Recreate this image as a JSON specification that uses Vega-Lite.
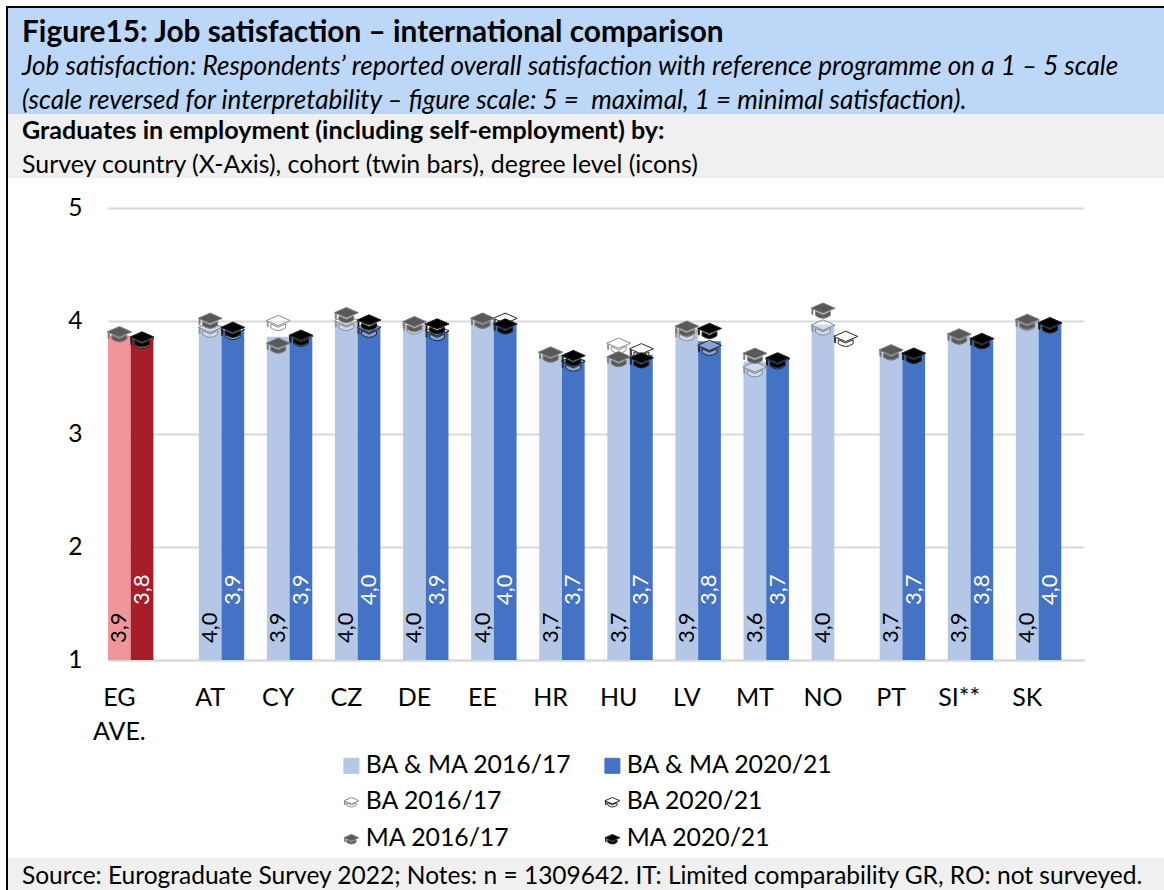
{
"$schema":"https://vega.github.io/schema/vega-lite/v6.json",
"padding":{"left":6,"top":6,"right":0,"bottom":0},
"background":"white",
"bounds":"flush",
"spacing":0,
"config":{"view":{"stroke":null},"font":"Lato","text":{"font":"Lato"},"concat":{"spacing":0}},
"datasets":{
"bars":[
{"slot":"EG AVE. 2016/17","series":"EG AVE. 2016/17","value":3.87,"label":"3,9","cohort":"2016/17"},
{"slot":"EG AVE. 2020/21","series":"EG AVE. 2020/21","value":3.84,"label":"3,8","cohort":"2020/21"},
{"slot":"AT 2016/17","series":"BA & MA 2016/17","value":3.96,"label":"4,0","cohort":"2016/17"},
{"slot":"AT 2020/21","series":"BA & MA 2020/21","value":3.92,"label":"3,9","cohort":"2020/21"},
{"slot":"CY 2016/17","series":"BA & MA 2016/17","value":3.86,"label":"3,9","cohort":"2016/17"},
{"slot":"CY 2020/21","series":"BA & MA 2020/21","value":3.85,"label":"3,9","cohort":"2020/21"},
{"slot":"CZ 2016/17","series":"BA & MA 2016/17","value":3.99,"label":"4,0","cohort":"2016/17"},
{"slot":"CZ 2020/21","series":"BA & MA 2020/21","value":3.95,"label":"4,0","cohort":"2020/21"},
{"slot":"DE 2016/17","series":"BA & MA 2016/17","value":3.96,"label":"4,0","cohort":"2016/17"},
{"slot":"DE 2020/21","series":"BA & MA 2020/21","value":3.91,"label":"3,9","cohort":"2020/21"},
{"slot":"EE 2016/17","series":"BA & MA 2016/17","value":4.0,"label":"4,0","cohort":"2016/17"},
{"slot":"EE 2020/21","series":"BA & MA 2020/21","value":3.97,"label":"4,0","cohort":"2020/21"},
{"slot":"HR 2016/17","series":"BA & MA 2016/17","value":3.7,"label":"3,7","cohort":"2016/17"},
{"slot":"HR 2020/21","series":"BA & MA 2020/21","value":3.66,"label":"3,7","cohort":"2020/21"},
{"slot":"HU 2016/17","series":"BA & MA 2016/17","value":3.68,"label":"3,7","cohort":"2016/17"},
{"slot":"HU 2020/21","series":"BA & MA 2020/21","value":3.7,"label":"3,7","cohort":"2020/21"},
{"slot":"LV 2016/17","series":"BA & MA 2016/17","value":3.92,"label":"3,9","cohort":"2016/17"},
{"slot":"LV 2020/21","series":"BA & MA 2020/21","value":3.82,"label":"3,8","cohort":"2020/21"},
{"slot":"MT 2016/17","series":"BA & MA 2016/17","value":3.64,"label":"3,6","cohort":"2016/17"},
{"slot":"MT 2020/21","series":"BA & MA 2020/21","value":3.66,"label":"3,7","cohort":"2020/21"},
{"slot":"NO 2016/17","series":"BA & MA 2016/17","value":3.97,"label":"4,0","cohort":"2016/17"},
{"slot":"PT 2016/17","series":"BA & MA 2016/17","value":3.72,"label":"3,7","cohort":"2016/17"},
{"slot":"PT 2020/21","series":"BA & MA 2020/21","value":3.7,"label":"3,7","cohort":"2020/21"},
{"slot":"SI** 2016/17","series":"BA & MA 2016/17","value":3.87,"label":"3,9","cohort":"2016/17"},
{"slot":"SI** 2020/21","series":"BA & MA 2020/21","value":3.83,"label":"3,8","cohort":"2020/21"},
{"slot":"SK 2016/17","series":"BA & MA 2016/17","value":4.0,"label":"4,0","cohort":"2016/17"},
{"slot":"SK 2020/21","series":"BA & MA 2020/21","value":3.98,"label":"4,0","cohort":"2020/21"}
],
"hats":[
{"slot":"EG AVE. 2016/17","series":"BA 2016/17","value":3.88},
{"slot":"EG AVE. 2020/21","series":"BA 2020/21","value":3.82},
{"slot":"AT 2016/17","series":"BA 2016/17","value":3.92},
{"slot":"AT 2020/21","series":"BA 2020/21","value":3.9},
{"slot":"CY 2016/17","series":"BA 2016/17","value":3.98},
{"slot":"CY 2020/21","series":"BA 2020/21","value":3.84},
{"slot":"CZ 2016/17","series":"BA 2016/17","value":3.98},
{"slot":"CZ 2020/21","series":"BA 2020/21","value":3.92},
{"slot":"DE 2016/17","series":"BA 2016/17","value":3.95},
{"slot":"DE 2020/21","series":"BA 2020/21","value":3.89},
{"slot":"EE 2016/17","series":"BA 2016/17","value":4.0},
{"slot":"EE 2020/21","series":"BA 2020/21","value":4.0},
{"slot":"HR 2016/17","series":"BA 2016/17","value":3.7},
{"slot":"HR 2020/21","series":"BA 2020/21","value":3.62},
{"slot":"HU 2016/17","series":"BA 2016/17","value":3.78},
{"slot":"HU 2020/21","series":"BA 2020/21","value":3.73},
{"slot":"LV 2016/17","series":"BA 2016/17","value":3.89},
{"slot":"LV 2020/21","series":"BA 2020/21","value":3.76},
{"slot":"MT 2016/17","series":"BA 2016/17","value":3.57},
{"slot":"MT 2020/21","series":"BA 2020/21","value":3.64},
{"slot":"NO 2016/17","series":"BA 2016/17","value":3.94},
{"slot":"NO 2020/21","series":"BA 2020/21","value":3.84},
{"slot":"PT 2016/17","series":"BA 2016/17","value":3.72},
{"slot":"PT 2020/21","series":"BA 2020/21","value":3.69},
{"slot":"SI** 2016/17","series":"BA 2016/17","value":3.86},
{"slot":"SI** 2020/21","series":"BA 2020/21","value":3.82},
{"slot":"SK 2016/17","series":"BA 2016/17","value":3.98},
{"slot":"SK 2020/21","series":"BA 2020/21","value":3.96},
{"slot":"EG AVE. 2016/17","series":"MA 2016/17","value":3.88},
{"slot":"EG AVE. 2020/21","series":"MA 2020/21","value":3.835},
{"slot":"AT 2016/17","series":"MA 2016/17","value":4.0},
{"slot":"AT 2020/21","series":"MA 2020/21","value":3.92},
{"slot":"CY 2016/17","series":"MA 2016/17","value":3.78},
{"slot":"CY 2020/21","series":"MA 2020/21","value":3.85},
{"slot":"CZ 2016/17","series":"MA 2016/17","value":4.05},
{"slot":"CZ 2020/21","series":"MA 2020/21","value":3.985},
{"slot":"DE 2016/17","series":"MA 2016/17","value":3.97},
{"slot":"DE 2020/21","series":"MA 2020/21","value":3.95},
{"slot":"EE 2016/17","series":"MA 2016/17","value":4.0},
{"slot":"EE 2020/21","series":"MA 2020/21","value":3.95},
{"slot":"HR 2016/17","series":"MA 2016/17","value":3.7},
{"slot":"HR 2020/21","series":"MA 2020/21","value":3.67},
{"slot":"HU 2016/17","series":"MA 2016/17","value":3.66},
{"slot":"HU 2020/21","series":"MA 2020/21","value":3.65},
{"slot":"LV 2016/17","series":"MA 2016/17","value":3.93},
{"slot":"LV 2020/21","series":"MA 2020/21","value":3.91},
{"slot":"MT 2016/17","series":"MA 2016/17","value":3.69},
{"slot":"MT 2020/21","series":"MA 2020/21","value":3.65},
{"slot":"NO 2016/17","series":"MA 2016/17","value":4.09},
{"slot":"PT 2016/17","series":"MA 2016/17","value":3.72},
{"slot":"PT 2020/21","series":"MA 2020/21","value":3.69},
{"slot":"SI** 2016/17","series":"MA 2016/17","value":3.86},
{"slot":"SI** 2020/21","series":"MA 2020/21","value":3.82},
{"slot":"SK 2016/17","series":"MA 2016/17","value":3.99},
{"slot":"SK 2020/21","series":"MA 2020/21","value":3.96}
]
},
"vconcat":[
{"width":1158,"height":2,"view":{"fill":"black"},"mark":{"type":"rect","fill":"black"},"encoding":{}},
{"hconcat":[
{"width":2,"height":882,"view":{"fill":"black"},"mark":{"type":"rect","fill":"black"},"encoding":{}},
{"bounds":"flush","spacing":0,"vconcat":[
{"width":1156,"height":106,"view":{"fill":"#BDD7F8"},
 "encoding":{
  "x":{"datum":0,"type":"quantitative","axis":null,"scale":{"domain":[0,1],"range":[14,1156]}},
  "y":{"field":"line","type":"ordinal","axis":null,"scale":{"type":"point","domain":[1,2,3],"range":[25,93],"padding":0}},
  "text":{"field":"text","type":"nominal"}},
 "layer":[
  {"data":{"values":[{"line":1,"text":"Figure15: Job satisfaction – international comparison"}]},
   "mark":{"type":"text","align":"left","baseline":"middle","font":"Lato","fontSize":29.8,"fontWeight":"bold","color":"black"}},
  {"data":{"values":[{"line":2,"text":"Job satisfaction: Respondents’ reported overall satisfaction with reference programme on a 1 – 5 scale"},{"line":3,"text":"(scale reversed for interpretability – figure scale: 5 = \u00a0maximal, 1 = minimal satisfaction)."}]},
   "mark":{"type":"text","align":"left","baseline":"middle","font":"Lato","fontSize":26.1,"fontStyle":"italic","color":"black"}}
 ]},
{"width":1156,"height":64,"view":{"fill":"#F0F0F0"},
 "encoding":{
  "x":{"datum":0,"type":"quantitative","axis":null,"scale":{"domain":[0,1],"range":[14,1156]}},
  "y":{"field":"line","type":"ordinal","axis":null,"scale":{"type":"point","domain":[1,2],"range":[17,52],"padding":0}},
  "text":{"field":"text","type":"nominal"}},
 "layer":[
  {"data":{"values":[{"line":1,"text":"Graduates in employment (including self-employment) by:"}]},
   "mark":{"type":"text","align":"left","baseline":"middle","font":"Lato","fontSize":25.1,"fontWeight":"bold","color":"black"}},
  {"data":{"values":[{"line":2,"text":"Survey country (X-Axis), cohort (twin bars), degree level (icons)"}]},
   "mark":{"type":"text","align":"left","baseline":"middle","font":"Lato","fontSize":24.9,"color":"black"}}
 ]},
{"width":1156,"height":30,"mark":{"type":"rect","opacity":0},"encoding":{}},
{"bounds":"flush","spacing":0,"hconcat":[
 {"width":100,"height":452,"mark":{"type":"rect","opacity":0},"encoding":{}},
 {"width":976,"height":452,
  "encoding":{
   "x":{"field":"slot","type":"nominal","title":null,
    "scale":{"type":"band","paddingInner":0,"paddingOuter":0,"domain":["EG AVE. 2016/17","EG AVE. 2020/21","gap a1","gap a2","AT 2016/17","AT 2020/21","gap b","CY 2016/17","CY 2020/21","gap c","CZ 2016/17","CZ 2020/21","gap d","DE 2016/17","DE 2020/21","gap e","EE 2016/17","EE 2020/21","gap f","HR 2016/17","HR 2020/21","gap g","HU 2016/17","HU 2020/21","gap h","LV 2016/17","LV 2020/21","gap i","MT 2016/17","MT 2020/21","gap j","NO 2016/17","NO 2020/21","gap k","PT 2016/17","PT 2020/21","gap l","SI** 2016/17","SI** 2020/21","gap m","SK 2016/17","SK 2020/21","gap n"]},
    "axis":{"values":["EG AVE. 2016/17","AT 2016/17","CY 2016/17","CZ 2016/17","DE 2016/17","EE 2016/17","HR 2016/17","HU 2016/17","LV 2016/17","MT 2016/17","NO 2016/17","PT 2016/17","SI** 2016/17","SK 2016/17"],
     "labelExpr":"datum.value=='EG AVE. 2016/17' ? ['EG','AVE.'] : split(datum.value,' ')[0]",
     "labelAngle":0,"labelFontSize":25,"labelFont":"Lato","labelColor":"black","labelPadding":37,"labelLineHeight":34,"labelBaseline":"middle","labelOverlap":false,"labelBound":false,"labelFlush":false,
     "ticks":false,"domainColor":"#D9D9D9","domainWidth":2,"grid":false}},
   "y":{"field":"value","type":"quantitative","title":null,
    "scale":{"domain":[1,5],"zero":false,"nice":false},
    "axis":{"values":[1,2,3,4,5],"labelFontSize":24.5,"labelFont":"Lato","labelColor":"black","labelPadding":26,"ticks":false,"domain":false,"grid":true,"gridColor":"#D9D9D9","gridWidth":2}}
  },
  "layer":[
   {"data":{"name":"bars"},
    "mark":{"type":"bar","clip":false},
    "encoding":{"y2":{"datum":1},
     "fill":{"field":"series","type":"nominal",
      "scale":{"domain":["BA & MA 2016/17","BA & MA 2020/21","BA 2016/17","BA 2020/21","MA 2016/17","MA 2020/21","EG AVE. 2016/17","EG AVE. 2020/21"],
       "range":["#B4C7E7","#4472C4","rgba(255,255,255,0.35)","rgba(255,255,255,0.35)","#595959","#000000","#F1959B","#A61C28"]},
      "legend":{"values":["BA & MA 2016/17","BA & MA 2020/21","BA 2016/17","BA 2020/21","MA 2016/17","MA 2020/21"],"title":null,"orient":"none","direction":"horizontal","legendX":333,"legendY":747,"columns":2,"symbolSize":225,"symbolStrokeWidth":1,"labelFontSize":24.8,"labelFont":"Lato","labelColor":"black","labelOffset":2,"columnPadding":27,"rowPadding":11,"labelLimit":400,"symbolOpacity":1}}
    }},
   {"data":{"name":"bars"},
    "transform":[{"filter":"datum.cohort=='2016/17'"}],
    "mark":{"type":"text","angle":270,"align":"left","baseline":"middle","font":"Lato","fontSize":22,"dx":17,"color":"black"},
    "encoding":{"y":{"datum":1},"text":{"field":"label","type":"nominal"}}},
   {"data":{"name":"bars"},
    "transform":[{"filter":"datum.cohort=='2020/21'"}],
    "mark":{"type":"text","angle":270,"align":"left","baseline":"middle","font":"Lato","fontSize":22,"dx":55,"color":"white"},
    "encoding":{"y":{"datum":1},"text":{"field":"label","type":"nominal"}}},
   {"data":{"name":"hats"},
    "mark":{"type":"point","filled":true,"size":576,"strokeWidth":1,"opacity":1},
    "encoding":{
     "fill":{"field":"series","type":"nominal",
      "scale":{"domain":["BA & MA 2016/17","BA & MA 2020/21","BA 2016/17","BA 2020/21","MA 2016/17","MA 2020/21","EG AVE. 2016/17","EG AVE. 2020/21"],
       "range":["#B4C7E7","#4472C4","rgba(255,255,255,0.35)","rgba(255,255,255,0.35)","#595959","#000000","#F1959B","#A61C28"]},
      "legend":{"values":["BA & MA 2016/17","BA & MA 2020/21","BA 2016/17","BA 2020/21","MA 2016/17","MA 2020/21"],"title":null}},
     "stroke":{"field":"series","type":"nominal",
      "scale":{"domain":["BA & MA 2016/17","BA & MA 2020/21","BA 2016/17","BA 2020/21","MA 2016/17","MA 2020/21","EG AVE. 2016/17","EG AVE. 2020/21"],
       "range":["#B4C7E7","#4472C4","#8C8C8C","#262626","#7F7F7F","#262626","#F1959B","#A61C28"]},
      "legend":{"values":["BA & MA 2016/17","BA & MA 2020/21","BA 2016/17","BA 2020/21","MA 2016/17","MA 2020/21"],"title":null}},
     "shape":{"field":"series","type":"nominal",
      "scale":{"domain":["BA & MA 2016/17","BA & MA 2020/21","BA 2016/17","BA 2020/21","MA 2016/17","MA 2020/21","EG AVE. 2016/17","EG AVE. 2020/21"],
       "range":["square","square",
        "M-1,-0.22L0,-0.66L1,-0.22L0,0.2ZM-0.62,0.05L0,0.33L0.62,0.05L0.62,0.38Q0,0.85 -0.62,0.38ZM-0.92,-0.14L-0.84,-0.1L-0.84,0.3L-0.92,0.3Z",
        "M-1,-0.22L0,-0.66L1,-0.22L0,0.2ZM-0.62,0.05L0,0.33L0.62,0.05L0.62,0.38Q0,0.85 -0.62,0.38ZM-0.92,-0.14L-0.84,-0.1L-0.84,0.3L-0.92,0.3Z",
        "M-1,-0.22L0,-0.66L1,-0.22L0,0.2ZM-0.62,0.05L0,0.33L0.62,0.05L0.62,0.38Q0,0.85 -0.62,0.38ZM-0.92,-0.14L-0.84,-0.1L-0.84,0.3L-0.92,0.3Z",
        "M-1,-0.22L0,-0.66L1,-0.22L0,0.2ZM-0.62,0.05L0,0.33L0.62,0.05L0.62,0.38Q0,0.85 -0.62,0.38ZM-0.92,-0.14L-0.84,-0.1L-0.84,0.3L-0.92,0.3Z",
        "square","square"]},
      "legend":{"values":["BA & MA 2016/17","BA & MA 2020/21","BA 2016/17","BA 2020/21","MA 2016/17","MA 2020/21"],"title":null}}
    }}
  ]}
]},
{"width":1156,"height":650,"mark":{"type":"rect","opacity":0},"encoding":{}},
{"width":1156,"height":32,"view":{"fill":"#F0F0F0"},
 "data":{"values":[{"line":1,"text":"Source: Eurograduate Survey 2022; Notes: n = 1309642. IT: Limited comparability GR, RO: not surveyed."}]},
 "mark":{"type":"text","align":"left","baseline":"middle","font":"Lato","fontSize":24.5,"color":"black"},
 "encoding":{
  "x":{"datum":0,"type":"quantitative","axis":null,"scale":{"domain":[0,1],"range":[14,1156]}},
  "y":{"field":"line","type":"ordinal","axis":null,"scale":{"type":"point","domain":[1],"range":[19,19]}},
  "text":{"field":"text","type":"nominal"}}}
]}
]}
]}
